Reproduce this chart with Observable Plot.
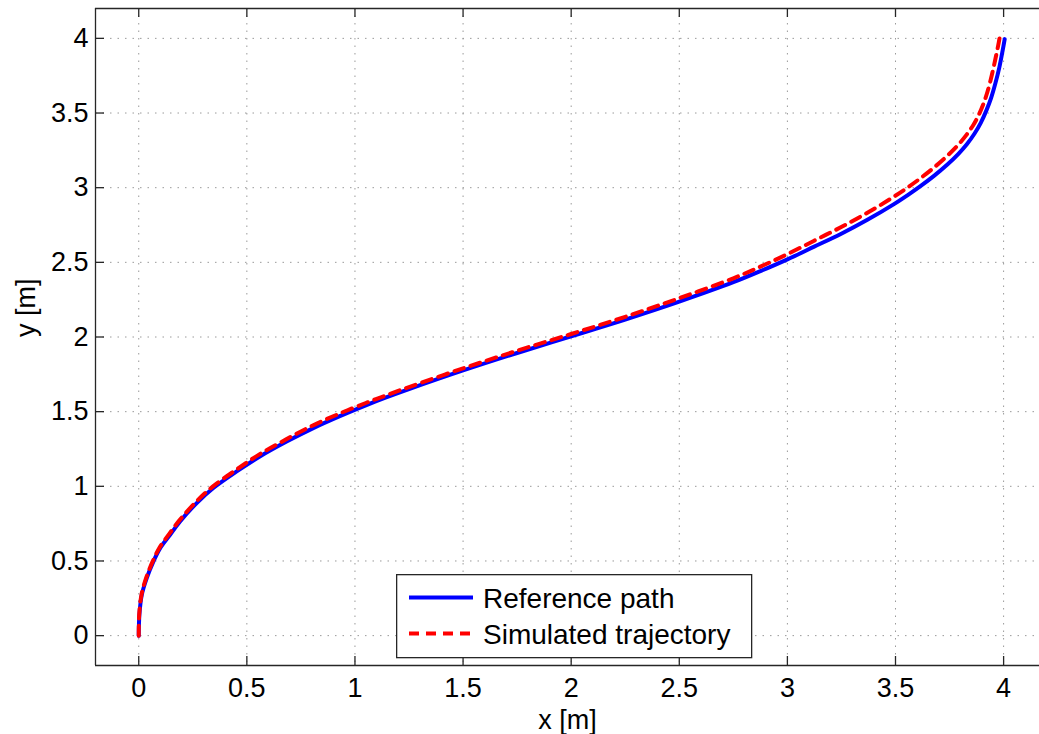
<!DOCTYPE html>
<html><head><meta charset="utf-8">
<script src="https://cdn.jsdelivr.net/npm/d3@7"></script>
<script src="https://cdn.jsdelivr.net/npm/@observablehq/plot@0.6"></script>
<style>
body{margin:0;background:#fff;}
#wrap{position:relative;width:1039px;height:734px;overflow:hidden;font-family:"Liberation Sans",Arial,Helvetica,sans-serif;}
#legend{position:absolute;left:396px;top:574px;}
</style></head><body><div id="wrap"></div>
<script>
// Reference path (blue, solid)
const refX = [0, 0.003, 0.014, 0.037, 0.068, 0.099, 0.145, 0.191, 0.268, 0.345, 0.453, 0.56, 0.684, 0.807, 0.93, 1.053, 1.138, 1.25, 1.5, 1.75, 2.0, 2.25, 2.5, 2.75, 2.878, 3.0, 3.124, 3.247, 3.37, 3.493, 3.555, 3.617, 3.678, 3.74, 3.79, 3.83, 3.865, 3.895, 3.92, 3.942, 3.962, 3.98, 3.995, 4.005];
const refY = [0, 0.139, 0.273, 0.385, 0.497, 0.586, 0.676, 0.765, 0.888, 0.989, 1.10, 1.20, 1.30, 1.39, 1.47, 1.544, 1.592, 1.651, 1.776, 1.893, 2.005, 2.117, 2.237, 2.367, 2.443, 2.52, 2.605, 2.69, 2.785, 2.89, 2.949, 3.012, 3.079, 3.155, 3.225, 3.291, 3.361, 3.436, 3.516, 3.6, 3.699, 3.804, 3.914, 3.995];
// Simulated trajectory (red, dashed)
const simX = [0, 0.002, 0.013, 0.035, 0.066, 0.097, 0.142, 0.188, 0.265, 0.342, 0.45, 0.556, 0.68, 0.80, 0.925, 1.05, 1.138, 1.25, 1.5, 1.75, 2.0, 2.25, 2.5, 2.75, 2.878, 3.0, 3.124, 3.247, 3.37, 3.493, 3.555, 3.617, 3.678, 3.74, 3.79, 3.83, 3.86, 3.885, 3.905, 3.925, 3.945, 3.962, 3.975, 3.983];
const simY = [0, 0.14, 0.276, 0.39, 0.502, 0.592, 0.683, 0.772, 0.896, 0.998, 1.11, 1.212, 1.313, 1.404, 1.485, 1.558, 1.606, 1.665, 1.79, 1.908, 2.02, 2.135, 2.26, 2.393, 2.473, 2.555, 2.645, 2.735, 2.832, 2.94, 3.0, 3.065, 3.135, 3.214, 3.287, 3.357, 3.42, 3.487, 3.555, 3.641, 3.751, 3.862, 3.953, 4.017];

const xTicks = [0, 0.5, 1, 1.5, 2, 2.5, 3, 3.5, 4];
const yTicks = [0, 0.5, 1, 1.5, 2, 2.5, 3, 3.5, 4];
const xTickLabels = ["0", "0.5", "1", "1.5", "2", "2.5", "3", "3.5", "4"];
const yTickLabels = ["0", "0.5", "1", "1.5", "2", "2.5", "3", "3.5", "4"];
const xDomain = [-0.2, 4.166];
const yDomain = [-0.2, 4.2];
const seriesNames = ["Reference path", "Simulated trajectory"];
const seriesColors = ["#0000ff", "#ff0000"];
const xLabel = "x [m]";
const yLabel = "y [m]";

const ref = refX.map((x, i) => ({x, y: refY[i]}));
const sim = simX.map((x, i) => ({x, y: simY[i]}));

const W = 1039, H = 734, mL = 95, mR = 0, mT = 8, mB = 69;
const frameH = H - mT - mB, frameW = W - mL - mR;
const font = '"Liberation Sans", Arial, Helvetica, sans-serif';
const axisColor = "#262626";

const plot = Plot.plot({
  width: W, height: H,
  marginLeft: mL, marginRight: mR, marginTop: mT, marginBottom: mB,
  style: {fontFamily: font, background: "white", color: "#000", overflow: "visible"},
  x: {domain: xDomain},
  y: {domain: yDomain},
  marks: [
    Plot.gridX(xTicks, {stroke: "#9a9a9a", strokeOpacity: 1, strokeWidth: 1, strokeDasharray: "1.5,6"}),
    Plot.gridY(yTicks, {stroke: "#9a9a9a", strokeOpacity: 1, strokeWidth: 1, strokeDasharray: "1.5,6"}),
    Plot.ruleX(xTicks, {insetTop: frameH - 9, stroke: axisColor, strokeWidth: 1.3}),
    Plot.ruleX(xTicks, {insetBottom: frameH - 9, stroke: axisColor, strokeWidth: 1.3}),
    Plot.ruleY(yTicks, {insetRight: frameW - 9, stroke: axisColor, strokeWidth: 1.3}),
    Plot.ruleX([xDomain[0]], {stroke: axisColor, strokeWidth: 1.3}),
    Plot.ruleY(yDomain, {stroke: axisColor, strokeWidth: 1.3}),
    Plot.line(ref, {x: "x", y: "y", stroke: seriesColors[0], strokeWidth: 4, curve: "catmull-rom"}),
    Plot.line(sim, {x: "x", y: "y", stroke: seriesColors[1], strokeWidth: 4, strokeDasharray: "10,7", curve: "catmull-rom"}),
    Plot.axisX(xTicks, {tickSize: 0, tickPadding: 12, fontSize: 27, tickFormat: (d) => xTickLabels[xTicks.indexOf(d)], label: null}),
    Plot.axisY(yTicks, {tickSize: 0, tickPadding: 7, fontSize: 27, tickFormat: (d) => yTickLabels[yTicks.indexOf(d)], label: null}),
    Plot.text([xLabel], {frameAnchor: "bottom", lineAnchor: "bottom", dy: 63, fontSize: 27, fill: "#000"}),
    Plot.text([yLabel], {frameAnchor: "left", lineAnchor: "bottom", rotate: -90, dx: -61, fontSize: 27, fill: "#000"})
  ]
});
document.getElementById("wrap").appendChild(plot);

// Legend
const lg = d3.select("#wrap").append("svg").attr("id", "legend")
  .attr("width", 357).attr("height", 85).style("font-family", font);
lg.append("rect").attr("x", 0.65).attr("y", 0.65).attr("width", 355).attr("height", 83)
  .attr("fill", "white").attr("stroke", axisColor).attr("stroke-width", 1.3);
seriesNames.forEach((name, i) => {
  const cy = 23.5 + i * 36;
  lg.append("line").attr("x1", 13).attr("x2", 77).attr("y1", cy).attr("y2", cy)
    .attr("stroke", seriesColors[i]).attr("stroke-width", 4)
    .attr("stroke-dasharray", i === 1 ? "10,7" : null);
  lg.append("text").attr("x", 87).attr("y", cy + 10.5).attr("font-size", 28).attr("fill", "#000").text(name);
});
</script>
</body></html>
